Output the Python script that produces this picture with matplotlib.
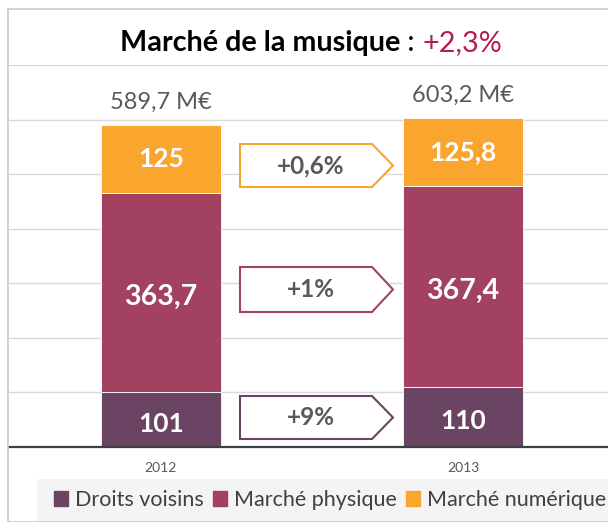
import matplotlib
matplotlib.use("Agg")
import matplotlib.pyplot as plt
from matplotlib.patches import Polygon, Patch, Rectangle
import numpy as np

plt.rcParams['font.family'] = ['Lato', 'DejaVu Sans']

years = ["2012", "2013"]
droits_voisins = [101, 110]
marche_physique = [363.7, 367.4]
marche_numerique = [125, 125.8]
totals = ["589,7 M€", "603,2 M€"]
seg_labels_dv = ["101", "110"]
seg_labels_mp = ["363,7", "367,4"]
seg_labels_mn = ["125", "125,8"]
growth_labels = ["+0,6%", "+1%", "+9%"]
series_names = ["Droits voisins", "Marché physique", "Marché numérique"]
title_main = "Marché de la musique"
title_growth = "+2,3%"

c_dv = "#6B4463"
c_mp = "#A34161"
c_mn = "#FAA52D"
grey_txt = "#595959"

W, H = 608, 522
fig = plt.figure(figsize=(W / 100, H / 100), dpi=100)

def px(x0, y0, x1, y1):
    return [x0 / W, 1 - y1 / H, (x1 - x0) / W, (y1 - y0) / H]

ax = fig.add_axes(px(9, 65, 608, 447))
x = np.arange(len(years))
bw = 0.397
ax.bar(x, droits_voisins, bw, color=c_dv, edgecolor="white", linewidth=0.6, zorder=3)
ax.bar(x, marche_physique, bw, bottom=droits_voisins, color=c_mp, edgecolor="white", linewidth=0.6, zorder=3)
b2 = np.array(droits_voisins) + np.array(marche_physique)
ax.bar(x, marche_numerique, bw, bottom=b2, color=c_mn, edgecolor="white", linewidth=0.6, zorder=3)
tot = b2 + np.array(marche_numerique)

ax.set_xlim(-0.503, 1.480)
ax.set_ylim(0, 700)
ax.set_yticks(np.arange(100, 701, 100))
ax.yaxis.grid(True, color="#D9D9D9", linewidth=1.0, zorder=0)
ax.tick_params(axis="y", left=False, labelleft=False)
ax.tick_params(axis="x", bottom=False, labelsize=10, labelcolor=grey_txt, pad=7)
ax.set_xticks(x)
ax.set_xticklabels(years)
for s in ["top", "right", "left"]:
    ax.spines[s].set_visible(False)
ax.spines["bottom"].set_color("#404040")
ax.spines["bottom"].set_linewidth(1.6)
ax.spines["bottom"].set_zorder(4)

for i in range(len(years)):
    ax.text(x[i], droits_voisins[i] / 2 - 8, seg_labels_dv[i], ha="center", va="center",
            color="white", fontsize=19, fontweight="bold", zorder=5)
    ax.text(x[i], droits_voisins[i] + marche_physique[i] / 2 - 8, seg_labels_mp[i], ha="center",
            va="center", color="white", fontsize=20.5, fontweight="bold", zorder=5)
    ax.text(x[i], b2[i] + marche_numerique[i] / 2, seg_labels_mn[i], ha="center", va="center",
            color="white", fontsize=19, fontweight="bold", zorder=5)
    ax.text(x[i], tot[i] + 42, totals[i], ha="center", va="center", color=grey_txt,
            fontsize=17, zorder=5)

# growth arrows (pixel layout)
arrow_boxes = [(144, 187, c_mn), (267, 312, c_mp), (396, 439, c_dv)]
for (y0, y1, col), lab in zip(arrow_boxes, growth_labels):
    x0, xr, xt = 240, 372, 393
    ym = (y0 + y1) / 2
    verts = [(x0, y0), (xr, y0), (xt, ym), (xr, y1), (x0, y1)]
    verts = [(vx / W, 1 - vy / H) for vx, vy in verts]
    fig.patches.append(Polygon(verts, closed=True, transform=fig.transFigure,
                               facecolor="white", edgecolor=col, linewidth=1.5, zorder=6))
    fig.text(311 / W, 1 - ym / H, lab, ha="center", va="center", color=grey_txt,
             fontsize=17.5, fontweight="bold", zorder=7)

# border frame
fig.patches.append(Rectangle((8 / W, 0), 1, 1 - 9 / H, transform=fig.transFigure,
                             facecolor="none", edgecolor="#C8C8C8", linewidth=1.2, zorder=10))

# title
t1 = fig.text(0, 0, title_main, fontsize=20.7, fontweight="bold", color="black")
t2 = fig.text(0, 0, " : ", fontsize=20.7, color="black")
t3 = fig.text(0, 0, title_growth, fontsize=20.7, color="#B51D4A")
fig.canvas.draw()
r = fig.canvas.get_renderer()
ws = [t.get_window_extent(r).width for t in (t1, t2, t3)]
total_w = sum(ws)
cx = 311
start = cx - total_w / 2
ty = 1 - 51 / H
pos = start
for t, w in zip((t1, t2, t3), ws):
    t.set_position((pos / W, ty))
    t.set_va("baseline")
    pos += w

# legend
fig.patches.append(Rectangle((37 / W, 0), 1, (522 - 479) / H, transform=fig.transFigure,
                             facecolor="#F4F4F4", edgecolor="none", zorder=1))
handles = [Patch(color=c) for c in (c_dv, c_mp, c_mn)]
leg = fig.legend(handles, series_names, loc="center", bbox_to_anchor=(330 / W, 1 - 500 / H),
                 ncol=3, frameon=False, fontsize=15.5, handlelength=0.65, handleheight=0.65,
                 handletextpad=0.3, columnspacing=0.45, labelcolor="#404040")

fig.savefig("out.png", dpi=100)
